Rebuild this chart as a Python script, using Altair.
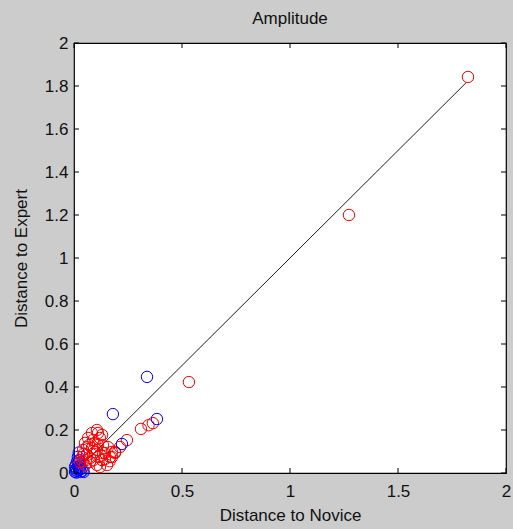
import altair as alt
import pandas as pd

# Red series (Distance to Novice, Distance to Expert)
red_x = [1.824, 1.273, 0.532, 0.365, 0.345, 0.310, 0.245, 0.213, 0.190, 0.176,
         0.111, 0.120, 0.157, 0.176, 0.134, 0.143, 0.167, 0.190, 0.111, 0.106,
         0.106, 0.083, 0.065, 0.051, 0.088, 0.130, 0.134, 0.143, 0.042, 0.037,
         0.060, 0.074, 0.106, 0.051, 0.028, 0.083, 0.111, 0.097, 0.120, 0.153,
         0.070, 0.060, 0.045, 0.090, 0.075, 0.095, 0.055, 0.040, 0.130, 0.165]
red_y = [1.842, 1.200, 0.423, 0.232, 0.222, 0.205, 0.153, 0.121, 0.098, 0.074,
         0.186, 0.163, 0.121, 0.098, 0.093, 0.065, 0.074, 0.093, 0.130, 0.107,
         0.200, 0.186, 0.163, 0.140, 0.153, 0.177, 0.130, 0.093, 0.107, 0.074,
         0.084, 0.051, 0.037, 0.037, 0.051, 0.116, 0.074, 0.098, 0.028, 0.037,
         0.130, 0.120, 0.090, 0.060, 0.070, 0.140, 0.060, 0.055, 0.060, 0.055]

# Blue series: isolated points
blue_x = [0.384, 0.338, 0.180, 0.222]
blue_y = [0.251, 0.447, 0.274, 0.135]

# Blue series: dense cluster near the origin
blue_c_x = [0.005, 0.010, 0.015, 0.020, 0.025, 0.030, 0.010, 0.015, 0.018, 0.022,
            0.035, 0.040, 0.045, 0.005, 0.030, 0.012, 0.008, 0.028, 0.020, 0.025]
blue_c_y = [0.005, 0.020, 0.010, 0.030, 0.015, 0.005, 0.040, 0.055, 0.075, 0.095,
            0.020, 0.010, 0.005, 0.030, 0.035, 0.002, 0.012, 0.025, 0.045, 0.060]

line_x = [0.025, 1.815]
line_y = [0.025, 1.815]

x_ticks = [0, 0.5, 1, 1.5, 2]
y_ticks = [0, 0.2, 0.4, 0.6, 0.8, 1, 1.2, 1.4, 1.6, 1.8, 2]

W, H = 432, 430
FONT = "Liberation Sans"

red_df = pd.DataFrame({"x": red_x, "y": red_y})
blue_df = pd.DataFrame({"x": blue_x, "y": blue_y})
bluec_df = pd.DataFrame({"x": blue_c_x, "y": blue_c_y})
line_df = pd.DataFrame({"x": line_x, "y": line_y})
xt_df = pd.DataFrame({"v": x_ticks})
yt_df = pd.DataFrame({"v": y_ticks})

xs = alt.Scale(domain=[0, 2], nice=False, zero=False)
ys = alt.Scale(domain=[0, 2], nice=False, zero=False)

xaxis = alt.Axis(values=x_ticks, format=".1~f", title="Distance to Novice",
                 tickSize=0, domain=False, grid=False, labelFlush=False,
                 labelPadding=10, titlePadding=8, labelFontSize=17,
                 titleFontSize=17, titleFontWeight="normal", labelColor="#111",
                 titleColor="#111", labelFont=FONT, titleFont=FONT)
yaxis = alt.Axis(values=y_ticks, format=".1~f", title="Distance to Expert",
                 tickSize=0, domain=False, grid=False, labelFlush=False,
                 labelPadding=6, titlePadding=14, labelFontSize=17,
                 titleFontSize=17, titleFontWeight="normal", labelColor="#111",
                 titleColor="#111", labelFont=FONT, titleFont=FONT)

line = alt.Chart(line_df).mark_line(color="black", strokeWidth=0.9).encode(
    x=alt.X("x:Q", scale=xs, axis=xaxis),
    y=alt.Y("y:Q", scale=ys, axis=yaxis),
)

pt = dict(shape="circle", filled=False, size=130, strokeWidth=1, opacity=1)
bluec = alt.Chart(bluec_df).mark_point(color="#0000ff", **pt).encode(
    x=alt.X("x:Q", scale=xs), y=alt.Y("y:Q", scale=ys))
red = alt.Chart(red_df).mark_point(color="#ff0000", **pt).encode(
    x=alt.X("x:Q", scale=xs), y=alt.Y("y:Q", scale=ys))
blue = alt.Chart(blue_df).mark_point(color="#0000ff", **pt).encode(
    x=alt.X("x:Q", scale=xs), y=alt.Y("y:Q", scale=ys))

tick_style = dict(color="black", strokeWidth=1)
xt_bottom = alt.Chart(xt_df).mark_rule(**tick_style).encode(
    x=alt.X("v:Q", scale=xs), y=alt.value(H), y2=alt.value(H - 5))
xt_top = alt.Chart(xt_df).mark_rule(**tick_style).encode(
    x=alt.X("v:Q", scale=xs), y=alt.value(0), y2=alt.value(5))
yt_left = alt.Chart(yt_df).mark_rule(**tick_style).encode(
    y=alt.Y("v:Q", scale=ys), x=alt.value(0), x2=alt.value(5))
yt_right = alt.Chart(yt_df).mark_rule(**tick_style).encode(
    y=alt.Y("v:Q", scale=ys), x=alt.value(W), x2=alt.value(W - 5))

chart = alt.layer(line, bluec, red, blue, xt_bottom, xt_top, yt_left, yt_right).properties(
    width=W, height=H,
    title=alt.TitleParams("Amplitude", fontSize=17, font=FONT, fontWeight="normal",
                          color="#111", offset=6),
    autosize=alt.AutoSizeParams(type="none"),
    padding={"left": 74, "top": 43, "right": 7, "bottom": 56},
    background="#cccccc",
).configure_view(fill="white", stroke="black", strokeWidth=1.2)

chart.save("out.html", embed_options={"renderer": "svg", "actions": False})
